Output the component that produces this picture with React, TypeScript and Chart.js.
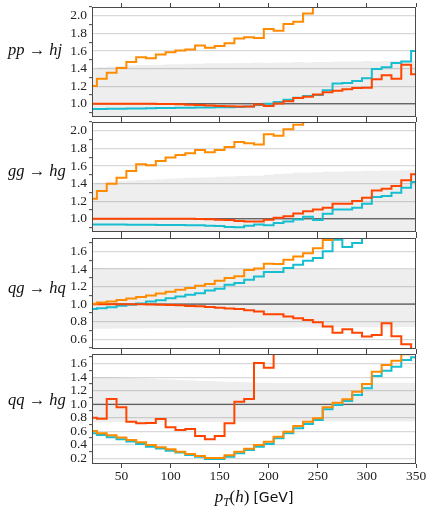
import React, { useEffect, useRef } from "react";
import { Chart, registerables } from "chart.js";
Chart.register(...registerables);

// ---------- data ----------
const binCenters = [20, 30, 40, 50, 60, 70, 80, 90, 100, 110, 120, 130, 140, 150, 160, 170, 180, 190, 200, 210, 220, 230, 240, 250, 260, 270, 280, 290, 300, 310, 320, 330, 340, 350];
const xTickValues = [50, 100, 150, 200, 250, 300, 350];

// pp -> hj
const ppOrange = [1.203, 1.286, 1.354, 1.406, 1.474, 1.53, 1.519, 1.56, 1.587, 1.605, 1.617, 1.662, 1.636, 1.658, 1.688, 1.741, 1.756, 1.748, 1.85, 1.831, 1.906, 1.932, 2.026, 2.16, 2.22, 2.25, 2.31, 2.36, 2.4, 2.47, 2.52, 2.58, 2.63, 2.7];
const ppRed = [1.0, 1.0, 1.0, 1.0, 1.0, 1.0, 1.0, 0.999, 0.998, 0.995, 0.99, 0.985, 0.98, 0.976, 0.973, 0.97, 0.968, 0.993, 0.975, 1.004, 1.03, 1.066, 1.079, 1.106, 1.132, 1.148, 1.165, 1.18, 1.183, 1.278, 1.324, 1.286, 1.444, 1.335];
const ppCyan = [0.94, 0.942, 0.944, 0.945, 0.947, 0.948, 0.95, 0.951, 0.953, 0.954, 0.955, 0.957, 0.958, 0.96, 0.961, 0.963, 0.968, 0.985, 1.0, 1.02, 1.045, 1.07, 1.09, 1.1, 1.155, 1.23, 1.235, 1.26, 1.29, 1.395, 1.415, 1.465, 1.48, 1.6];
const ppBandHi = [1.4, 1.415, 1.425, 1.43, 1.435, 1.44, 1.44, 1.445, 1.45, 1.45, 1.455, 1.455, 1.46, 1.46, 1.462, 1.465, 1.465, 1.47, 1.465, 1.47, 1.47, 1.475, 1.47, 1.475, 1.475, 1.48, 1.48, 1.48, 1.485, 1.48, 1.485, 1.49, 1.49, 1.49];
const ppBandLo = [0.62, 0.61, 0.6, 0.6, 0.6, 0.59, 0.59, 0.59, 0.59, 0.58, 0.58, 0.58, 0.58, 0.58, 0.58, 0.57, 0.57, 0.57, 0.57, 0.57, 0.57, 0.57, 0.56, 0.56, 0.56, 0.56, 0.56, 0.56, 0.56, 0.56, 0.55, 0.55, 0.55, 0.55];
const ppYTicks = [1.0, 1.2, 1.4, 1.6, 1.8, 2.0];
const ppYMinor = [0.9, 1.1, 1.3, 1.5, 1.7, 1.9, 2.1];

// gg -> hg
const ggOrange = [1.228, 1.316, 1.399, 1.467, 1.544, 1.619, 1.608, 1.658, 1.696, 1.726, 1.745, 1.783, 1.756, 1.783, 1.817, 1.874, 1.859, 1.845, 1.961, 1.943, 2.018, 2.068, 2.15, 2.19, 2.24, 2.3, 2.34, 2.4, 2.46, 2.5, 2.56, 2.62, 2.66, 2.72];
const ggRed = [1.0, 1.0, 1.0, 1.0, 1.0, 1.0, 1.0, 1.0, 1.0, 1.0, 1.0, 0.998, 0.994, 0.99, 0.985, 0.975, 0.97, 0.97, 0.989, 1.011, 1.03, 1.061, 1.087, 1.106, 1.125, 1.171, 1.171, 1.202, 1.239, 1.323, 1.342, 1.373, 1.437, 1.505];
const ggCyan = [0.935, 0.935, 0.934, 0.934, 0.933, 0.932, 0.931, 0.93, 0.93, 0.929, 0.928, 0.926, 0.92, 0.918, 0.908, 0.905, 0.92, 0.935, 0.928, 0.951, 0.97, 0.992, 1.023, 0.985, 1.057, 1.106, 1.106, 1.125, 1.171, 1.247, 1.259, 1.296, 1.353, 1.418];
const ggBandHi = [1.4, 1.41, 1.42, 1.428, 1.435, 1.44, 1.445, 1.45, 1.455, 1.46, 1.466, 1.47, 1.472, 1.477, 1.48, 1.485, 1.488, 1.49, 1.5, 1.51, 1.515, 1.525, 1.525, 1.53, 1.537, 1.535, 1.54, 1.54, 1.545, 1.544, 1.548, 1.55, 1.552, 1.555];
const ggBandLo = [0.62, 0.61, 0.6, 0.6, 0.6, 0.59, 0.59, 0.59, 0.59, 0.58, 0.58, 0.58, 0.58, 0.58, 0.58, 0.57, 0.57, 0.57, 0.57, 0.57, 0.57, 0.57, 0.56, 0.56, 0.56, 0.56, 0.56, 0.56, 0.56, 0.56, 0.55, 0.55, 0.55, 0.55];
const ggYTicks = [1.0, 1.2, 1.4, 1.6, 1.8, 2.0];
const ggYMinor = [0.9, 1.1, 1.3, 1.5, 1.7, 1.9, 2.1];

// qg -> hq
const qgOrange = [1.004, 1.019, 1.03, 1.046, 1.065, 1.08, 1.099, 1.122, 1.141, 1.164, 1.183, 1.209, 1.228, 1.266, 1.297, 1.316, 1.388, 1.405, 1.46, 1.455, 1.505, 1.543, 1.58, 1.635, 1.73, 1.8, 1.76, 1.9, 1.95, 2.0, 2.05, 2.1, 2.15, 2.2];
const qgRed = [1.0, 1.0, 1.0, 1.0, 1.0, 0.998, 0.996, 0.993, 0.99, 0.986, 0.98, 0.976, 0.968, 0.96, 0.951, 0.945, 0.93, 0.916, 0.886, 0.886, 0.859, 0.84, 0.821, 0.795, 0.745, 0.676, 0.715, 0.676, 0.631, 0.65, 0.783, 0.636, 0.544, 0.487];
const qgCyan = [0.946, 0.954, 0.966, 0.981, 0.992, 1.007, 1.03, 1.045, 1.068, 1.087, 1.106, 1.125, 1.155, 1.174, 1.22, 1.24, 1.277, 1.315, 1.365, 1.365, 1.41, 1.448, 1.494, 1.525, 1.6, 1.733, 1.65, 1.695, 1.8, 1.85, 1.9, 1.95, 2.0, 2.05];
const qgBandHi = [1.41, 1.41, 1.408, 1.408, 1.407, 1.407, 1.406, 1.406, 1.405, 1.405, 1.405, 1.404, 1.404, 1.404, 1.403, 1.403, 1.403, 1.402, 1.402, 1.402, 1.402, 1.401, 1.401, 1.401, 1.401, 1.4, 1.4, 1.4, 1.4, 1.4, 1.4, 1.4, 1.4, 1.4];
const qgBandLo = [0.718, 0.72, 0.721, 0.722, 0.723, 0.724, 0.725, 0.726, 0.726, 0.727, 0.728, 0.728, 0.729, 0.73, 0.73, 0.731, 0.731, 0.732, 0.732, 0.733, 0.733, 0.734, 0.734, 0.735, 0.735, 0.736, 0.736, 0.737, 0.737, 0.738, 0.738, 0.739, 0.739, 0.74];
const qgYTicks = [0.6, 0.8, 1.0, 1.2, 1.4, 1.6];
const qgYMinor = [0.5, 0.7, 0.9, 1.1, 1.3, 1.5, 1.7];

// qq -> hg
const qqOrange = [0.604, 0.57, 0.541, 0.506, 0.471, 0.437, 0.397, 0.363, 0.333, 0.298, 0.264, 0.234, 0.204, 0.204, 0.244, 0.298, 0.342, 0.397, 0.446, 0.52, 0.594, 0.679, 0.742, 0.793, 0.955, 1.024, 1.074, 1.187, 1.301, 1.483, 1.582, 1.646, 1.74, 1.82];
const qqRed = [0.802, 0.787, 1.079, 0.955, 0.742, 0.718, 0.722, 0.782, 0.659, 0.619, 0.634, 0.53, 0.481, 0.53, 0.718, 1.039, 1.079, 1.61, 1.54, 1.85, 1.95, 2.0, 2.1, 2.2, 2.3, 2.4, 2.5, 2.6, 2.7, 2.8, 2.9, 3.0, 3.1, 3.2];
const qqCyan = [0.57, 0.546, 0.511, 0.481, 0.447, 0.412, 0.372, 0.343, 0.313, 0.284, 0.249, 0.224, 0.19, 0.19, 0.224, 0.274, 0.323, 0.372, 0.412, 0.496, 0.57, 0.644, 0.708, 0.767, 0.926, 0.99, 1.049, 1.138, 1.237, 1.419, 1.498, 1.557, 1.656, 1.696];
const qqBandHi = [1.41, 1.405, 1.4, 1.395, 1.39, 1.385, 1.38, 1.372, 1.366, 1.36, 1.355, 1.35, 1.345, 1.34, 1.335, 1.33, 1.325, 1.32, 1.318, 1.316, 1.315, 1.315, 1.316, 1.315, 1.316, 1.317, 1.316, 1.317, 1.318, 1.318, 1.319, 1.319, 1.32, 1.32];
const qqBandLo = [0.73, 0.731, 0.732, 0.733, 0.734, 0.735, 0.736, 0.736, 0.737, 0.737, 0.738, 0.738, 0.739, 0.739, 0.74, 0.74, 0.74, 0.741, 0.741, 0.741, 0.742, 0.742, 0.742, 0.743, 0.743, 0.743, 0.744, 0.744, 0.744, 0.744, 0.745, 0.745, 0.745, 0.745];
const qqYTicks = [0.2, 0.4, 0.6, 0.8, 1.0, 1.2, 1.4, 1.6];
const qqYMinor = [0.3, 0.5, 0.7, 0.9, 1.1, 1.3, 1.5, 1.7];

const panelNames = [
  ["pp", "hj"],
  ["gg", "hg"],
  ["qg", "hq"],
  ["qq", "hg"],
];
const yRanges = [
  [0.85, 2.1],
  [0.85, 2.1],
  [0.49, 1.752],
  [0.115, 1.745],
];

// ---------- styles / layout ----------
const ORANGE = "#ff8c00";
const RED = "#ff4500";
const CYAN = "#17becf";
const BAND = "rgba(0,0,0,0.065)";
const GRID = "#d9d9d9";
const FRAME = "#4a4a4a";
const SERIF = "'Liberation Serif', 'DejaVu Serif', serif";
const W = 427;
const PLOT_LEFT = 92;
const PLOT_RIGHT = 416;
const TOP_AX = 4;
const geoms = [
  { top: 7, h: 110, labelY: 50 },
  { top: 122, h: 110, labelY: 171 },
  { top: 238, h: 111, labelY: 288 },
  { top: 354, h: 110, labelY: 400 },
];

const panels = [
  { orange: ppOrange, red: ppRed, cyan: ppCyan, bandHi: ppBandHi, bandLo: ppBandLo, majors: ppYTicks, minors: ppYMinor },
  { orange: ggOrange, red: ggRed, cyan: ggCyan, bandHi: ggBandHi, bandLo: ggBandLo, majors: ggYTicks, minors: ggYMinor },
  { orange: qgOrange, red: qgRed, cyan: qgCyan, bandHi: qgBandHi, bandLo: qgBandLo, majors: qgYTicks, minors: qgYMinor },
  { orange: qqOrange, red: qqRed, cyan: qqCyan, bandHi: qqBandHi, bandLo: qqBandLo, majors: qqYTicks, minors: qqYMinor },
];

const framePlugin = {
  id: "frame",
  afterDatasetsDraw(chart: any) {
    const { ctx, chartArea: a } = chart;
    ctx.save();
    ctx.strokeStyle = FRAME;
    ctx.lineWidth = 1;
    ctx.strokeRect(a.left + 0.5, a.top + 0.5, a.right - a.left - 1, a.bottom - a.top - 1);
    ctx.restore();
  },
};

function Panel({ idx, showX }: { idx: number; showX: boolean }) {
  const ref = useRef<HTMLCanvasElement>(null);
  const g = geoms[idx];
  const bottomH = showX ? 24 : 4;
  const height = TOP_AX + g.h + bottomH;
  useEffect(() => {
    const p = panels[idx];
    const [yMin, yMax] = yRanges[idx];
    const toXY = (arr: number[]) => arr.map((y, i) => ({ x: binCenters[i], y }));
    const isMajor = (v: number) => p.majors.some((m) => Math.abs(m - v) < 1e-6);
    const allTicks = [...p.majors, ...p.minors].filter((v) => v >= yMin - 1e-9 && v <= yMax + 1e-9).sort((a, b) => a - b);
    const lineDs = (arr: number[], color: string) => ({
      data: toXY(arr),
      borderColor: color,
      borderWidth: 2,
      stepped: "middle" as const,
      pointRadius: 0,
      fill: false,
    });
    const font = { family: SERIF, size: 13.5 };
    const chart = new Chart(ref.current as HTMLCanvasElement, {
      type: "line",
      data: {
        datasets: [
          lineDs(p.orange, ORANGE),
          lineDs(p.red, RED),
          lineDs(p.cyan, CYAN),
          { data: [{ x: 20, y: 1 }, { x: 350, y: 1 }], borderColor: "#3c3c3c", borderWidth: 1, pointRadius: 0, fill: false },
          { data: toXY(p.bandLo), borderWidth: 0, borderColor: "rgba(0,0,0,0)", stepped: "middle", pointRadius: 0, fill: false },
          { data: toXY(p.bandHi), borderWidth: 0, borderColor: "rgba(0,0,0,0)", stepped: "middle", pointRadius: 0, fill: "-1", backgroundColor: BAND },
        ] as any,
      },
      options: {
        animation: false,
        responsive: false,
        maintainAspectRatio: false,
        events: [],
        layout: { padding: { left: 0, right: W - PLOT_RIGHT, top: 0, bottom: 0 } },
        plugins: { legend: { display: false }, tooltip: { enabled: false } },
        scales: {
          x: {
            type: "linear",
            position: "bottom",
            min: 20,
            max: 350,
            afterBuildTicks: (s: any) => {
              s.ticks = xTickValues.map((v) => ({ value: v }));
            },
            afterFit: (s: any) => {
              s.height = bottomH;
              s.paddingLeft = 0;
              s.paddingRight = 0;
            },
            border: { display: false },
            grid: { drawOnChartArea: false, drawTicks: true, tickLength: 4, tickColor: "#444", color: "#444" },
            ticks: { display: showX, font, color: "#222", padding: 0, maxRotation: 0, autoSkip: false, callback: (v: any) => String(v) },
          },
          x2: {
            type: "linear",
            position: "top",
            display: true,
            min: 20,
            max: 350,
            afterBuildTicks: (s: any) => {
              s.ticks = xTickValues.map((v) => ({ value: v }));
            },
            afterFit: (s: any) => {
              s.height = TOP_AX;
              s.paddingLeft = 0;
              s.paddingRight = 0;
            },
            border: { display: false },
            grid: { drawOnChartArea: false, drawTicks: true, tickLength: 4, tickColor: "#444", color: "#444" },
            ticks: { display: false },
          },
          y: {
            type: "linear",
            min: yMin,
            max: yMax,
            afterBuildTicks: (s: any) => {
              s.ticks = allTicks.map((v) => ({ value: v }));
            },
            afterFit: (s: any) => {
              s.width = PLOT_LEFT;
              s.paddingTop = 0;
              s.paddingBottom = 0;
            },
            border: { display: false },
            grid: {
              color: (c: any) => (c.tick && isMajor(c.tick.value) ? GRID : "rgba(0,0,0,0)"),
              lineWidth: 1.3,
              tickLength: 3,
              tickColor: (c: any) => (c.tick && !isMajor(c.tick.value) ? "#444" : "rgba(0,0,0,0)"),
              tickWidth: 1,
            },
            ticks: {
              autoSkip: false,
              font,
              color: "#222",
              padding: 2,
              callback: (v: any) => (isMajor(Number(v)) ? Number(v).toFixed(1) : ""),
            },
          },
        } as any,
      },
      plugins: [framePlugin],
    });
    return () => chart.destroy();
  }, []);
  return (
    <canvas
      ref={ref}
      width={W}
      height={height}
      style={{ position: "absolute", left: 0, top: g.top - TOP_AX, width: W, height }}
    />
  );
}

export default function App() {
  return (
    <div style={{ position: "absolute", left: 0, top: 0, width: W, height: 506, background: "#fff", overflow: "hidden" }}>
      {panels.map((_, i) => (
        <Panel key={i} idx={i} showX={i === panels.length - 1} />
      ))}
      {panelNames.map(([a, b], i) => (
        <div
          key={"l" + i}
          style={{
            position: "absolute",
            left: 8,
            top: geoms[i].labelY - 10,
            height: 20,
            lineHeight: "20px",
            fontFamily: SERIF,
            fontSize: 16.5,
            whiteSpace: "nowrap",
            color: "#111",
          }}
        >
          <i>{a}</i> → <i>{b}</i>
        </div>
      ))}
      <div
        style={{
          position: "absolute",
          left: PLOT_LEFT,
          width: PLOT_RIGHT - PLOT_LEFT,
          top: 488,
          height: 18,
          lineHeight: "18px",
          textAlign: "center",
          whiteSpace: "nowrap",
          color: "#111",
        }}
      >
        <span style={{ fontFamily: SERIF, fontSize: 17 }}>
          <i>p</i>
          <sub style={{ fontSize: 11.5, lineHeight: 0 }}>
            <i>T</i>
          </sub>
          (<i>h</i>)
        </span>{" "}
        <span style={{ fontFamily: "'DejaVu Sans', sans-serif", fontSize: 14 }}>[GeV]</span>
      </div>
    </div>
  );
}
